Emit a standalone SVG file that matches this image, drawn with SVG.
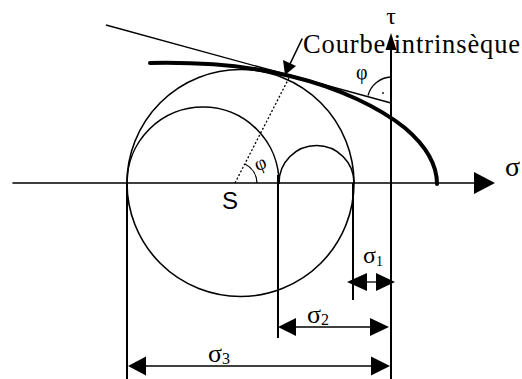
<svg xmlns="http://www.w3.org/2000/svg" width="522" height="379" viewBox="0 0 522 379">
<style>
.ln{fill:none;stroke:#000;stroke-width:1.6;stroke-linecap:round}
.ext{fill:none;stroke:#000;stroke-width:2}
.thin{fill:none;stroke:#000;stroke-width:1.3}
.ah{fill:#000;stroke:none}
.lbl{font-family:"Liberation Serif","Times New Roman",serif;fill:#000}
.hand{font-family:"Liberation Serif","Times New Roman",serif;fill:#000}
</style>
<rect width="522" height="379" fill="#fff"/>
<g id="circles">
<circle class="ln" cx="240.5" cy="183" r="113.5"/>
<path class="ln" d="M127,183 A76,76 0 0 1 279,183"/>
<path class="ln" d="M279,183 A37.5,37.5 0 0 1 354,183"/>
</g>
<g id="axes">
<line class="ln" x1="13" y1="183" x2="478" y2="183"/>
<polygon class="ah" points="495,183 474,172 474,194"/>
<line class="ext" x1="391" y1="45" x2="391" y2="379"/>
<polygon class="ah" points="391,33 385.5,50 396.5,50"/>
</g>
<g id="curve">
<path d="M150,63 C200,62 250,66 290,76 C340,88 380,108 405,128 C425,145 437,163 437,184" fill="none" stroke="#000" stroke-width="4" stroke-linecap="round"/>
</g>
<g id="tangent">
<line class="thin" x1="106" y1="25" x2="391" y2="103"/>
<path class="thin" d="M368,95.5 A25,25 0 0 1 391,77"/>
<circle cx="383" cy="93" r="0.9" fill="#000"/>
<line x1="235" y1="183" x2="290" y2="76" stroke="#000" stroke-width="1.3" stroke-dasharray="2 2"/>
<path class="thin" d="M257,183 A22,22 0 0 0 245,164"/>
</g>
<g id="connectors">
<line class="ln" x1="302" y1="39" x2="290" y2="64"/>
<polygon class="ah" points="285,75 283,60 296,66"/>
<line class="ext" x1="127" y1="183" x2="127" y2="379"/>
<line class="ext" x1="278" y1="175" x2="278" y2="338"/>
<line class="ext" x1="353" y1="183" x2="353" y2="300"/>
<line class="thin" x1="365" y1="282" x2="378" y2="282"/>
<polygon class="ah" points="347,282 367,273 367,291"/>
<polygon class="ah" points="395,282 376,273 376,291"/>
<line class="thin" x1="292" y1="327" x2="372" y2="327"/>
<polygon class="ah" points="278,327 296,318 296,336"/>
<polygon class="ah" points="389,327 370,318 370,336"/>
<line class="thin" x1="143" y1="366" x2="374" y2="366"/>
<polygon class="ah" points="128,366 146,356.5 146,375.5"/>
<polygon class="ah" points="390,366 371,356.5 371,375.5"/>
</g>
<g id="labels">
<text class="lbl" x="303" y="53" font-size="26.5" textLength="217" lengthAdjust="spacing">Courbe intrinsèque</text>
<text class="hand" x="391" y="24" font-size="24" text-anchor="middle">τ</text>
<text class="hand" x="505" y="176" font-size="28">σ</text>
<text class="hand" x="356" y="79" font-size="20">φ</text>
<text class="hand" x="254" y="169" font-size="20" transform="rotate(-20 262 162)">φ</text>
<text x="222" y="209" font-size="24" font-family="'Liberation Sans',Arial,sans-serif">S</text>
<text class="hand" x="363" y="263" font-size="24">σ<tspan font-size="14" dy="3">1</tspan></text>
<text class="hand" x="307" y="323" font-size="26">σ<tspan font-size="16" dy="2">2</tspan></text>
<text class="hand" x="208" y="362" font-size="26">σ<tspan font-size="16" dy="2">3</tspan></text>
</g>
</svg>
